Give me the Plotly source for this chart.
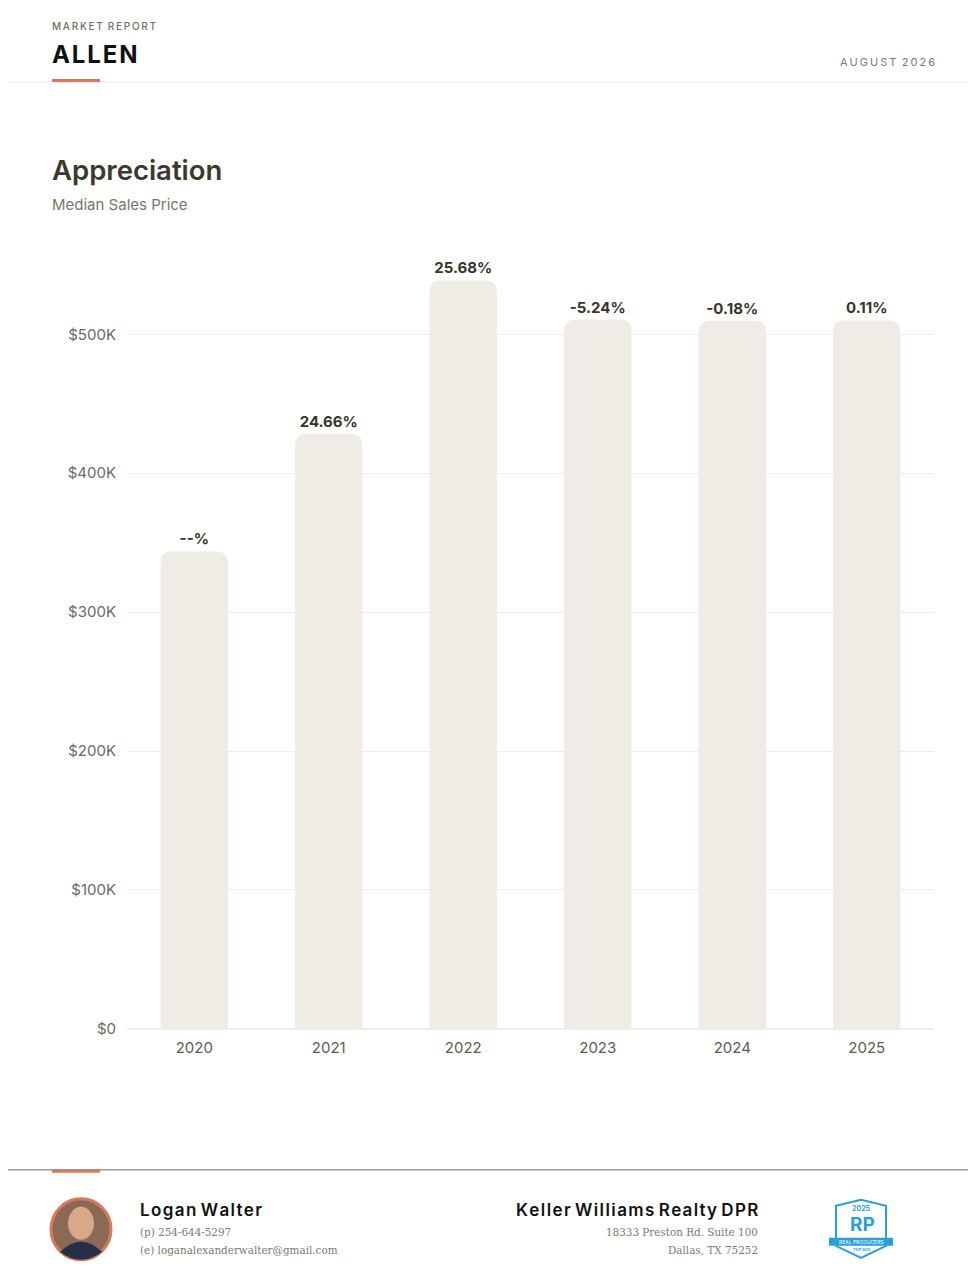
import plotly.graph_objects as go

# the page body keeps an 8px margin; the photographed page also comes out a little
# squeezed vertically, so y positions are stretched by 1/Y_SQUEEZE to land where wanted
PAGE_W, PAGE_H = 976, 1278
OFF = 8
W, H = PAGE_W - 2 * OFF, PAGE_H - 2 * OFF
Y_SQUEEZE = 0.993

# Data
years = ['2020', '2021', '2022', '2023', '2024', '2025']
median_price = [343700, 428300, 538800, 510600, 509700, 510000]
appreciation_labels = ['--%', '24.66%', '25.68%', '-5.24%', '-0.18%', '0.11%']
tick_vals = [0, 100000, 200000, 300000, 400000, 500000]
tick_text = ['$0', '$100K', '$200K', '$300K', '$400K', '$500K']

FONT = 'Inter'
SERIF = 'DejaVu Serif'
ACCENT = '#d9785a'
BAR = '#efece6'


def px(x):
    return (x - OFF) / W


def py(y):
    return 1 - (y - OFF) / (H * Y_SQUEEZE)


fig = go.Figure()

fig.add_trace(go.Bar(
    x=years,
    y=median_price,
    marker=dict(color=BAR, cornerradius=10, line=dict(width=0)),
    text=appreciation_labels,
    textposition='outside',
    textfont=dict(family=FONT, size=15, color='#35352a', weight='bold'),
    cliponaxis=False,
    hovertemplate='%{x}: $%{y:,.0f}<extra></extra>',
))

fig.update_layout(
    width=W, height=H,
    margin=dict(l=0, r=0, t=0, b=0),
    paper_bgcolor='white', plot_bgcolor='white',
    showlegend=False,
    bargap=0.5,
    font=dict(family=FONT),
    xaxis=dict(domain=[px(127), px(934)], showgrid=False, showline=False, ticks='',
               tickfont=dict(family=FONT, size=15, color='#5c5c50'), ticklabelstandoff=8),
    yaxis=dict(domain=[py(1029), py(251)], range=[0, 560000], tickvals=tick_vals, ticktext=tick_text,
               showgrid=True, gridcolor='#eeeeee', gridwidth=1, zeroline=True, zerolinecolor='#eeeeee',
               tickfont=dict(family=FONT, size=15, color='#6b6b60'), ticklabelstandoff=10),
)

P = dict(xref='paper', yref='paper')

# header / footer decorations
shapes = [
    dict(type='line', x0=px(0), x1=px(PAGE_W), y0=py(82), y1=py(82), line=dict(color='#e6e6e6', width=1), **P),
    dict(type='rect', x0=px(52), x1=px(100), y0=py(82), y1=py(79), fillcolor=ACCENT, line=dict(width=0), **P),
    dict(type='line', x0=px(0), x1=px(PAGE_W), y0=py(1170), y1=py(1170), line=dict(color='#66665a', width=1), **P),
    dict(type='rect', x0=px(52), x1=px(100), y0=py(1173), y1=py(1170), fillcolor=ACCENT, line=dict(width=0), **P),
    # portrait placeholder
    dict(type='circle', x0=px(51), x1=px(111), y0=py(1260), y1=py(1199), fillcolor='#8a6a55',
         line=dict(color=ACCENT, width=3), **P),
    dict(type='circle', x0=px(68), x1=px(94), y0=py(1240), y1=py(1207), fillcolor='#d8a888',
         line=dict(width=0), **P),
    dict(type='path', path=f'M {px(60)},{py(1252)} Q {px(81)},{py(1232)} {px(102)},{py(1252)} '
                           f'Q {px(92)},{py(1260)} {px(81)},{py(1260)} Q {px(70)},{py(1260)} {px(60)},{py(1252)} Z',
         fillcolor='#24304a', line=dict(width=0), **P),
    # badge shield
    dict(type='path', path=f'M {px(836)},{py(1206)} L {px(861)},{py(1200)} L {px(886)},{py(1206)} '
                           f'L {px(886)},{py(1246)} L {px(861)},{py(1258)} L {px(836)},{py(1246)} Z',
         fillcolor='white', line=dict(color='#2b9fd9', width=2), **P),
    dict(type='rect', x0=px(829), x1=px(893), y0=py(1246), y1=py(1238), fillcolor='#2b9fd9',
         line=dict(width=0), **P),
]
fig.update_layout(shapes=shapes)


def spaced(s, gap='\u200a', word_gap=' '):
    return word_gap.join(gap.join(w) for w in s.split(' '))


def note(text, x, y, anchor, size, color, family=FONT, weight='normal'):
    shift = {'left': -2, 'right': 2, 'center': 0}[anchor]
    return dict(text=text, x=px(x), y=py(y), xanchor=anchor, yanchor='middle', showarrow=False, xshift=shift,
                font=dict(family=family, size=size, color=color, weight=weight), **P)


annotations = [
    note(spaced('MARKET REPORT', '\u2009', '\u2002'), 52, 26, 'left', 10, '#6e6e62', weight=500),
    note(spaced('ALLEN'), 52, 55, 'left', 24, '#111111', weight='bold'),
    note(spaced('AUGUST 2026', '\u2009', '\u2002'), 935, 62, 'right', 11, '#7a7a6e'),
    note('Appreciation', 52, 170, 'left', 27.5, '#3a3a2c', weight=600),
    note('Median Sales Price', 52, 205, 'left', 15, '#77776a'),
    note(spaced('Logan Walter'), 140, 1210, 'left', 17, '#111111', weight=600),
    note('(p) 254-644-5297', 140, 1232, 'left', 10.4, '#7a7a70', family=SERIF),
    note('(e) loganalexanderwalter@gmail.com', 140, 1250, 'left', 10.4, '#7a7a70', family=SERIF),
    note(spaced('Keller Williams Realty DPR'), 758, 1210, 'right', 17, '#111111', weight=600),
    note('18333 Preston Rd. Suite 100', 758, 1232, 'right', 10.4, '#7a7a70', family=SERIF),
    note('Dallas, TX 75252', 758, 1250, 'right', 10.4, '#7a7a70', family=SERIF),
    note('2025', 861, 1209, 'center', 7, '#2b9fd9', weight='bold'),
    note('RP', 862, 1225, 'center', 19, '#2b9fd9', weight='bold'),
    note('REAL PRODUCERS', 861, 1242, 'center', 5, 'white'),
    note('TOP 500', 861, 1250, 'center', 4, '#2b9fd9', weight='bold'),
]
fig.update_layout(annotations=annotations)

fig.write_html("out.html")
